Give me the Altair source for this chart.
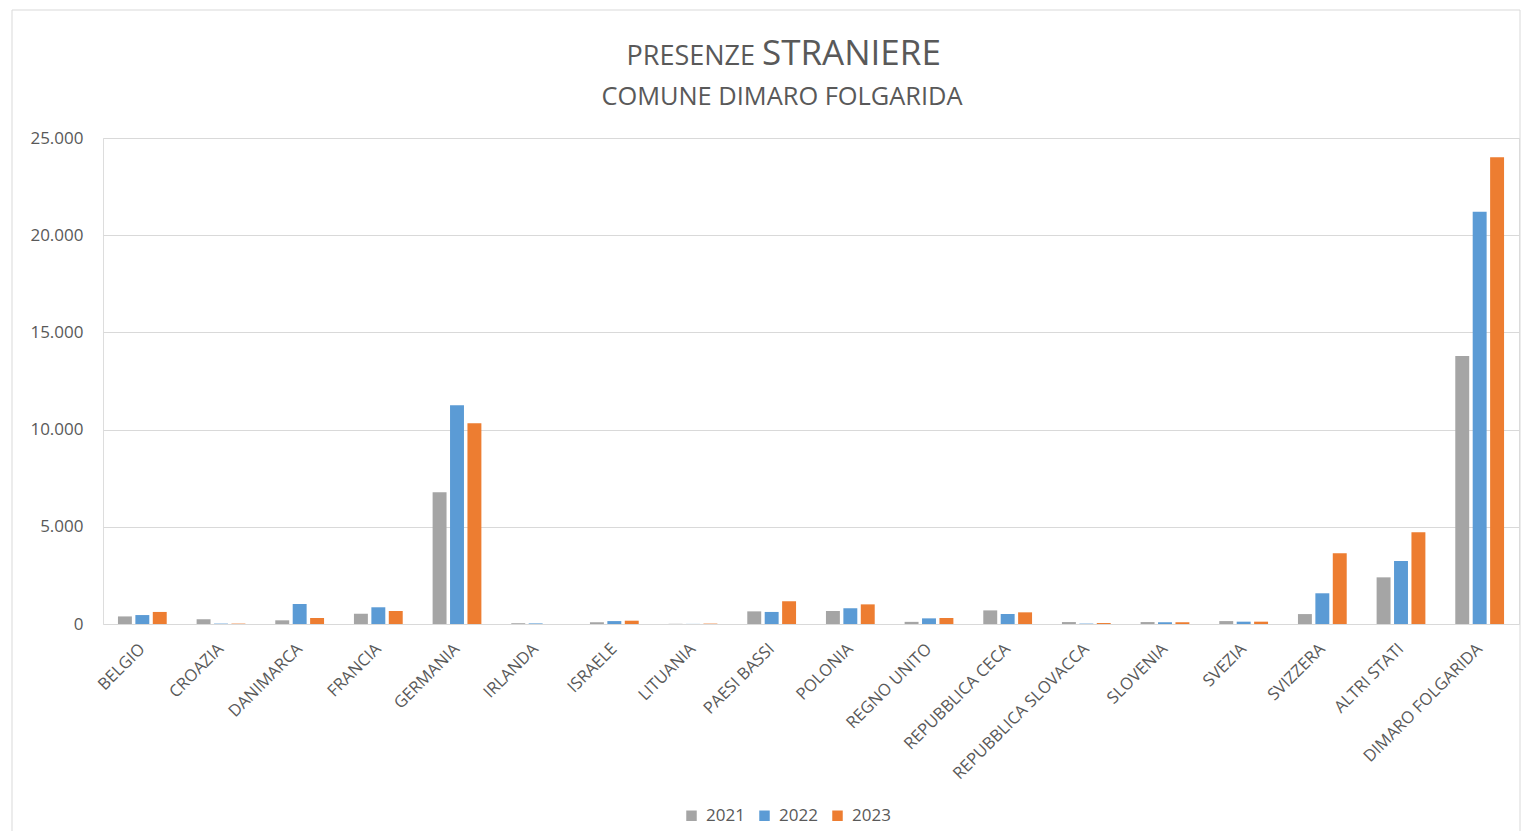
import altair as alt
import pandas as pd

paesi = ["BELGIO", "CROAZIA", "DANIMARCA", "FRANCIA", "GERMANIA", "IRLANDA",
         "ISRAELE", "LITUANIA", "PAESI BASSI", "POLONIA", "REGNO UNITO",
         "REPUBBLICA CECA", "REPUBBLICA SLOVACCA", "SLOVENIA", "SVEZIA",
         "SVIZZERA", "ALTRI STATI", "DIMARO FOLGARIDA"]
v2021 = [390, 240, 190, 530, 6780, 40, 90, 10, 650, 670, 110, 700, 100, 100, 150, 510, 2400, 13790]
v2022 = [460, 20, 1030, 860, 11250, 30, 150, 5, 620, 810, 290, 515, 20, 90, 120, 1580, 3240, 21210]
v2023 = [620, 20, 310, 670, 10330, 0, 170, 20, 1170, 1010, 310, 600, 50, 90, 120, 3640, 4715, 24005]
anni = ["2021", "2022", "2023"]
colori = ["#A5A5A5", "#5B9BD5", "#ED7D31"]

rows = []
for i, p in enumerate(paesi):
    for a, vals in zip(anni, [v2021, v2022, v2023]):
        rows.append({"Paese": p, "Anno": a, "Presenze": vals[i]})
df = pd.DataFrame(rows)

TXT = "#595959"
FONT = "Open Sans"

bars = alt.Chart(df).mark_bar().encode(
    x=alt.X("Paese:N", sort=paesi, title=None,
            scale=alt.Scale(paddingInner=0.38, paddingOuter=0.19),
            axis=alt.Axis(labelAngle=-45, labelAlign="right", labelBaseline="middle",
                          labelPadding=22, ticks=False, domain=False, grid=False,
                          labelFontSize=16.6, labelColor=TXT, labelFont=FONT,
                          labelLimit=400)),
    xOffset=alt.XOffset("Anno:N", sort=anni,
                        scale=alt.Scale(paddingInner=0.2, paddingOuter=0)),
    y=alt.Y("Presenze:Q", title=None,
            scale=alt.Scale(domain=[0, 25000], nice=False),
            axis=alt.Axis(values=[0, 5000, 10000, 15000, 20000, 25000],
                          labelExpr="replace(format(datum.value, ',d'), ',', '.')",
                          ticks=False, domain=False, gridColor="#d9d9d9",
                          labelPadding=20, labelFontSize=17, labelColor=TXT,
                          labelFont=FONT)),
    color=alt.Color("Anno:N", sort=anni,
                    scale=alt.Scale(domain=anni, range=colori),
                    legend=alt.Legend(title=None, orient="none", direction="horizontal",
                                      legendX=580, legendY=669, symbolType="square",
                                      symbolSize=110, symbolStrokeWidth=0,
                                      labelFontSize=17, labelColor=TXT, labelFont=FONT,
                                      columnPadding=11, labelOffset=6)),
)

t1 = alt.Chart(pd.DataFrame({"t": ["PRESENZE"]})).mark_text(
    align="right", baseline="alphabetic", fontSize=27, color=TXT, font=FONT
).encode(x=alt.value(652), y=alt.value(-73), text="t:N")

t2 = alt.Chart(pd.DataFrame({"t": ["STRANIERE"]})).mark_text(
    align="left", baseline="alphabetic", fontSize=35, color=TXT, font=FONT
).encode(x=alt.value(659), y=alt.value(-73), text="t:N")

t3 = alt.Chart(pd.DataFrame({"t": ["COMUNE DIMARO FOLGARIDA"]})).mark_text(
    align="center", baseline="alphabetic", fontSize=25.4, color=TXT, font=FONT
).encode(x=alt.value(679), y=alt.value(-33), text="t:N")

frame = alt.Chart(pd.DataFrame({"t": [0]})).mark_rect(
    fill=None, stroke="#d9d9d9", strokeWidth=1
).encode(x=alt.value(-91), x2=alt.value(1417), y=alt.value(-128), y2=alt.value(740))

chart = alt.layer(frame, bars, t1, t2, t3).properties(
    width=1416, height=486,
    autosize=alt.AutoSizeParams(type="none"),
    padding={"left": 95, "top": 130, "right": 2, "bottom": 207},
).configure_view(stroke="#d9d9d9").configure(background="white")

chart.save("out.html", embed_options={"renderer": "svg", "actions": False})
